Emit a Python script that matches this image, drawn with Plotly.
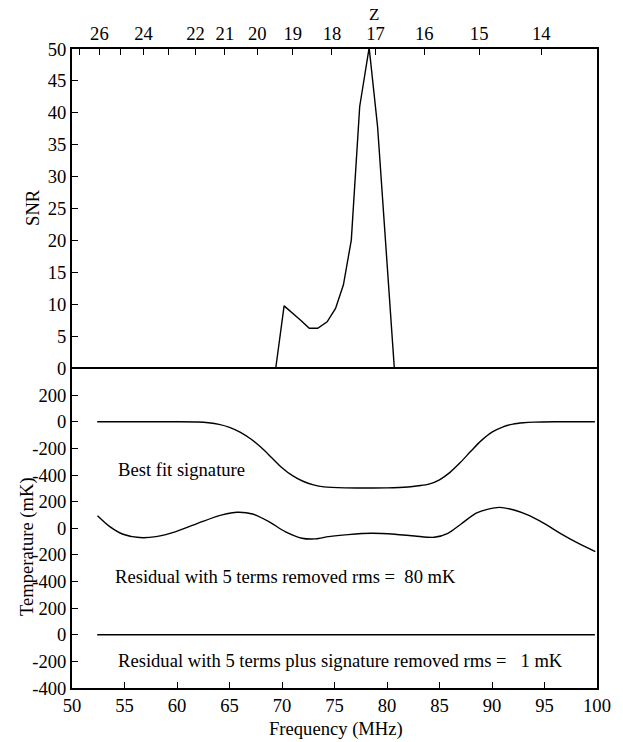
import plotly.graph_objects as go

FONT = "Liberation Serif, Times New Roman, serif"

# ---- data ----
snr_freq = [52.4, 69.4, 70.2, 71.0, 71.75, 72.6, 73.4, 74.3, 75.1, 75.85, 76.6, 77.4, 78.3, 79.1, 80.7, 99.8]
snr_vals = [0, 0, 9.8, 8.7, 7.6, 6.3, 6.3, 7.3, 9.4, 13.1, 20.1, 41.0, 50.2, 37.9, 0, 0]

sig_freq = [52.4, 56, 60, 62, 63, 64, 65, 66, 67, 68, 69, 70, 71, 72, 73, 74, 76, 78, 80, 82, 83,
            84, 85, 86, 87, 88, 89, 90, 91, 92, 93, 94, 96, 99.8]
sig_vals = [0, 0, 0, -2, -8, -20, -42, -78, -128, -192, -268, -345, -405, -447, -474, -489, -497, -498,
            -497, -490, -481, -468, -436, -380, -305, -220, -140, -78, -40, -18, -8, -3, 0, 0]

res5_freq = [52.43, 53.6, 54.86, 56.44, 58.0, 59.9, 62.4, 64.3, 65.75, 67.2, 68.75, 70.3, 71.9, 73.2,
             74.43, 76.3, 78.53, 80.75, 82.64, 84.5, 85.8, 87.06, 88.6, 90.7, 92.1, 93.4, 94.95,
             96.5, 98.1, 99.84]
res5_vals = [94, 12, -45, -70, -63, -25, 50, 100, 120, 107, 50, -25, -75, -80,
             -63, -48, -38, -45, -58, -68, -38, 32, 117, 157, 137, 100, 37,
             -38, -108, -175]

res_sig_freq = [52.4, 60, 70, 80, 90, 99.8]
res_sig_vals = [0, 0, 0, 0, 0, 0]

freq_ticks = [50, 55, 60, 65, 70, 75, 80, 85, 90, 95, 100]
snr_ticks = [0, 5, 10, 15, 20, 25, 30, 35, 40, 45, 50]
z_ticks = [27, 26, 25, 24, 23, 22, 21, 20, 19, 18, 17, 16, 15, 14]
z_labels = ["", "26", "", "24", "", "22", "21", "20", "19", "18", "17", "16", "15", "14"]
temp_tick_labels = ["-400", "-200", "0", "200"]

# stacked offsets of the three temperature panels (mK)
OFF_RES_SIG, OFF_RES5, OFF_SIG = 0, 800, 1600

F21 = 1420.4  # MHz, rest frequency of the 21 cm line
z_freqs = [F21 / (1 + z) for z in z_ticks]

temp_vals = []
temp_text = []
for off in (OFF_RES_SIG, OFF_RES5, OFF_SIG):
    for t in temp_tick_labels:
        temp_vals.append(int(t) + off)
        temp_text.append(t)

line = dict(color="black", width=1.4)

fig = go.Figure()
fig.add_trace(go.Scatter(x=snr_freq, y=snr_vals, mode="lines", line=line, xaxis="x2", yaxis="y"))
fig.add_trace(go.Scatter(x=sig_freq, y=[v + OFF_SIG for v in sig_vals], mode="lines",
                         line=dict(shape="spline", smoothing=0.8, **line), xaxis="x", yaxis="y2"))
fig.add_trace(go.Scatter(x=res5_freq, y=[v + OFF_RES5 for v in res5_vals], mode="lines",
                         line=dict(shape="spline", smoothing=0.8, **line), xaxis="x", yaxis="y2"))
fig.add_trace(go.Scatter(x=res_sig_freq, y=[v + OFF_RES_SIG for v in res_sig_vals], mode="lines",
                         line=line, xaxis="x", yaxis="y2"))

W, H = 623, 742
L, R, T, B = 72, 600, 49, 688  # plot area in page pixels


def px(x):
    return (x - L) / (R - L)


def py(y):
    return (B - y) / (B - T)


FS = 18.6
axis_common = dict(showline=True, linecolor="black", linewidth=1.8, ticks="inside",
                   ticklen=6, tickwidth=1.3, tickcolor="black", showgrid=False, zeroline=False,
                   tickfont=dict(family=FONT, size=FS, color="black"))

fig.update_layout(
    width=W, height=H,
    margin=dict(l=L, r=W - R, t=T, b=H - B, pad=0),
    paper_bgcolor="white", plot_bgcolor="white",
    showlegend=False,
    font=dict(family=FONT, size=FS, color="black"),
    xaxis=dict(domain=[0, 1], anchor="y2", range=[50, 100], tickvals=freq_ticks, mirror=True,
               **axis_common),
    yaxis2=dict(domain=[0, 0.5], anchor="x", range=[-400, 2000], tickvals=temp_vals,
                ticktext=temp_text, mirror=True, **axis_common),
    xaxis2=dict(domain=[0, 1], anchor="y", side="top", range=[50, 100], tickvals=z_freqs,
                ticktext=z_labels, mirror=False, **axis_common),
    yaxis=dict(domain=[0.5, 1], anchor="x2", range=[0, 50], tickvals=snr_ticks, mirror=True,
               **axis_common),
)

ann = dict(xref="paper", yref="paper", showarrow=False, font=dict(family=FONT, size=FS, color="black"))
fig.add_annotation(text="Z", x=px(375.5), y=py(14), xanchor="center", yanchor="middle",
                   **{**ann, "font": dict(family=FONT, size=17, color="black")})
fig.add_annotation(text="SNR", x=px(31.7), y=py(207), textangle=-90, xanchor="center",
                   yanchor="middle", **ann)
fig.add_annotation(text="Temperature (mK)", x=px(26.7), y=py(546), textangle=-90, xanchor="center",
                   yanchor="middle", **ann)
fig.add_annotation(text="Frequency (MHz)", x=px(338), y=py(729), xanchor="center", yanchor="middle", **ann)
fig.add_annotation(text="Best fit signature", x=px(116.7), y=py(469.5), xanchor="left",
                   yanchor="middle", **ann)
fig.add_annotation(text="Residual with 5 terms removed rms =\u00a0\u00a080 mK", x=px(113.3), y=py(576),
                   xanchor="left", yanchor="middle", **ann)
fig.add_annotation(text="Residual with 5 terms plus signature removed rms =\u00a0\u00a0\u00a01 mK",
                   x=px(116), y=py(660), xanchor="left", yanchor="middle", **ann)

# remove the browser's default 8px body margin so the figure fills the window exactly
fig.write_html("out.html", config={"displayModeBar": False},
               post_script="document.body.style.margin='0px';")
